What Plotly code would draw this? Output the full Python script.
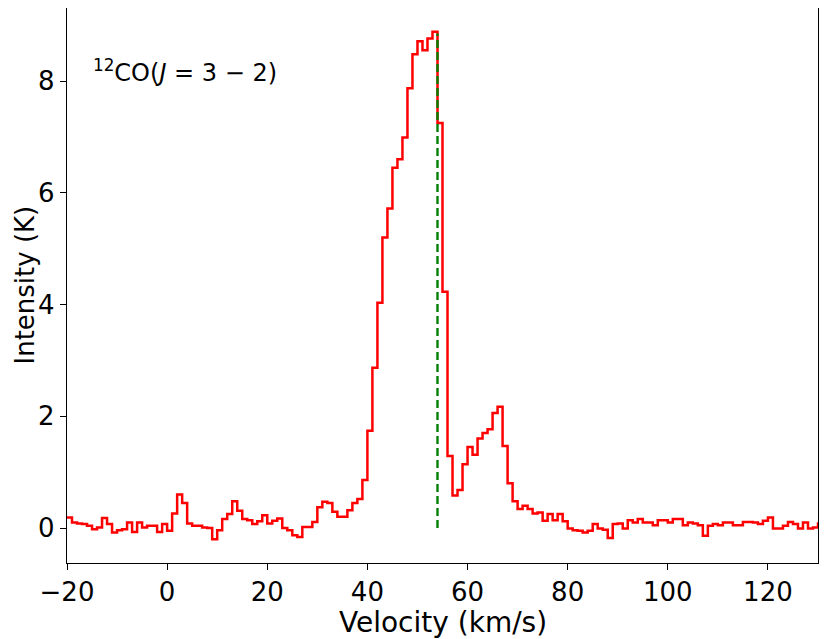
import numpy as np
import plotly.graph_objects as go

# 12CO(3-2) spectrum, 1 km/s channels, channel centres from -20.5 to 130.5 km/s
v_start = -20.5
chan_width = 1.0
intensity = [
    0.19, 0.19, 0.10, 0.08, 0.07, 0.04, -0.02, 0.01, 0.18, 0.07,
    -0.08, -0.04, -0.02, 0.10, -0.07, 0.10, 0.01, 0.04, 0.04, -0.07,
    0.07, -0.05, 0.26, 0.60, 0.45, 0.08, 0.04, 0.04, 0.01, 0.00,
    -0.20, -0.04, 0.16, 0.25, 0.48, 0.31, 0.16, 0.14, 0.07, 0.12,
    0.23, 0.08, 0.13, 0.17, 0.00, -0.04, -0.13, -0.16, 0.02, 0.02,
    0.11, 0.37, 0.47, 0.45, 0.29, 0.20, 0.20, 0.32, 0.45, 0.52,
    0.86, 1.74, 2.87, 4.03, 5.20, 5.72, 6.45, 6.60, 6.99, 7.87,
    8.48, 8.71, 8.55, 8.76, 8.88, 7.25, 4.23, 1.29, 0.58, 0.68,
    1.14, 1.45, 1.31, 1.60, 1.70, 1.77, 2.06, 2.17, 1.47, 0.80,
    0.48, 0.34, 0.40, 0.34, 0.26, 0.28, 0.13, 0.25, 0.14, 0.25,
    0.12, -0.01, -0.04, -0.05, -0.08, -0.05, 0.07, -0.01, -0.03, -0.18,
    0.07, 0.08, -0.01, 0.14, 0.10, 0.16, 0.10, 0.10, 0.05, 0.14,
    0.14, 0.10, 0.16, 0.16, 0.05, 0.10, 0.08, 0.05, -0.14, 0.04,
    0.07, 0.05, 0.10, 0.10, 0.05, 0.05, 0.11, 0.11, 0.10, 0.07,
    0.13, 0.19, -0.01, -0.01, 0.04, 0.11, 0.07, -0.01, 0.10, -0.01,
    0.01, 0.08,
]
velocity = v_start + chan_width * np.arange(len(intensity))

v_sys = 54.0
v_sys_top = 8.85

x_ticks = [-20, 0, 20, 40, 60, 80, 100, 120]
y_ticks = [0, 2, 4, 6, 8]

fig = go.Figure()
fig.add_trace(go.Scatter(x=velocity, y=intensity, mode="lines",
                         line=dict(color="#ff0000", width=2.5, shape="hvh"),
                         showlegend=False))
fig.add_trace(go.Scatter(x=[v_sys, v_sys], y=[0, v_sys_top], mode="lines",
                         line=dict(color="#008000", width=2.4, dash="8px,4px"),
                         showlegend=False))

fig.add_annotation(x=-15.3, y=8.18, xref="x", yref="y",
                   text="<sup>12</sup>CO(<i>J</i> = 3 − 2)",
                   showarrow=False, xanchor="left", yanchor="middle",
                   font=dict(size=24, color="black"))

# axis titles as annotations so the plot frame stays put
fig.add_annotation(x=0.5, y=0, xref="paper", yref="paper",
                   text="Velocity (km/s)", showarrow=False,
                   xanchor="center", yanchor="middle", yshift=-59,
                   font=dict(size=28, color="black"))
fig.add_annotation(x=0, y=0.5, xref="paper", yref="paper",
                   text="Intensity (K)", showarrow=False, textangle=-90,
                   xanchor="center", yanchor="middle", xshift=-43,
                   font=dict(size=26, color="black"))

axis_style = dict(showline=True, linecolor="black", linewidth=1.3, mirror=True,
                  ticks="outside", ticklen=6, tickwidth=1.3, tickcolor="black",
                  showgrid=False, zeroline=False, automargin=False,
                  tickfont=dict(size=26, color="black"))

# page body has an 8px margin, so the figure is sized a bit smaller
fig.update_layout(
    width=822, height=631,
    margin=dict(l=59, r=12, t=0, b=76),
    paper_bgcolor="white", plot_bgcolor="white",
    font=dict(family="DejaVu Sans", color="black"),
    xaxis=dict(range=[-20, 130], tickvals=x_ticks, **axis_style),
    yaxis=dict(range=[-0.626, 9.307], tickvals=y_ticks, **axis_style),
)

fig.write_html("out.html")
